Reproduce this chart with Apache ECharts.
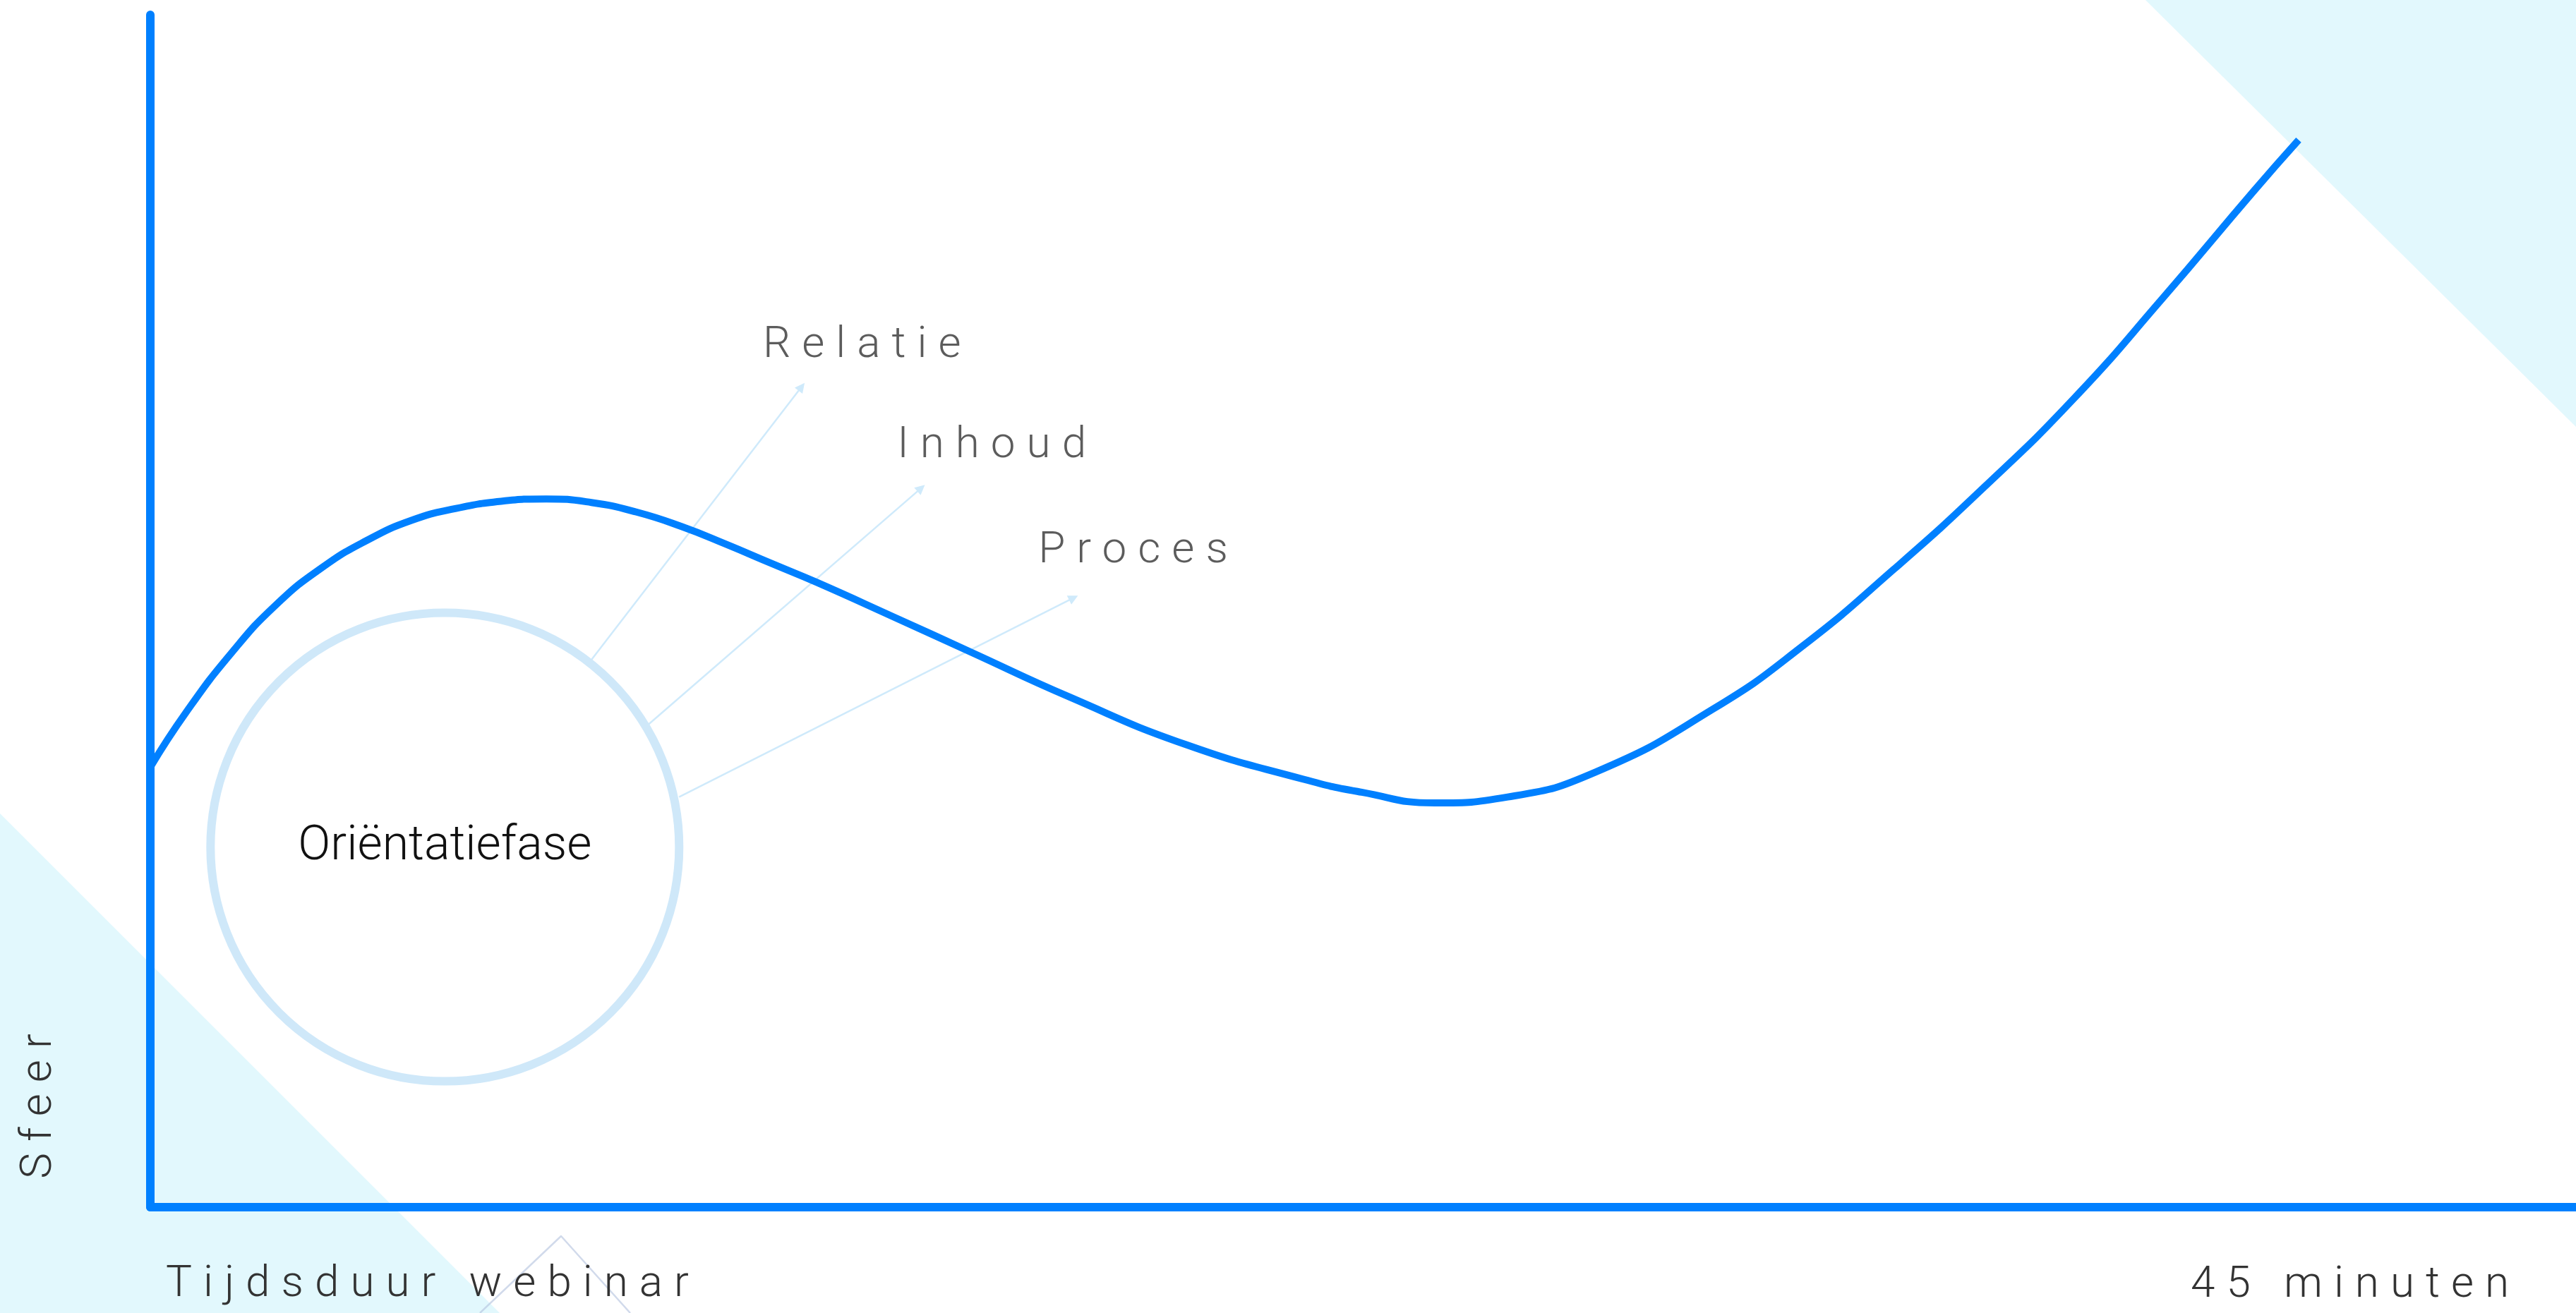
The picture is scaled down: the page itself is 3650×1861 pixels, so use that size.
<!DOCTYPE html>
<html>
<head>
<meta charset="utf-8">
<script src="https://cdn.jsdelivr.net/npm/echarts@6/dist/echarts.min.js"></script>
<style>
html, body { margin: 0; padding: 0; background: #ffffff; }
#chart { width: 3650px; height: 1861px; }
</style>
</head>
<body>
<div id="chart"></div>
<script>
// ---- data ----
// Sfeer curve over the webinar (x in minutes, y = sfeer 0..100)
const curveX = [0, 0.73, 1.66, 2.56, 3.49, 4.41, 5.33, 6.24, 7.16, 8.08, 9.00, 9.92, 10.83, 11.75, 12.67, 13.6, 15.17, 16.72, 18.75, 21.13, 23.52, 24.72, 26.21, 27.70, 29.50, 31.90, 33.73, 35.58, 37.40, 39.25, 41.08, 42.92, 43.84];
const curveY = [36.9, 41.5, 46.5, 50.5, 53.6, 55.9, 57.6, 58.6, 59.2, 59.4, 59.1, 58.3, 57.1, 55.6, 54.0, 52.4, 49.5, 46.6, 42.8, 38.8, 35.9, 34.8, 33.9, 34.4, 36.5, 41.8, 47.1, 53.5, 60.3, 67.8, 76.3, 85.2, 89.5];

// phase circle
const phaseName = 'Oriëntatiefase';
const phaseCenter = [6.01, 30.2];

// arrows from the circle to the three aspects
const aspectNames = ['Relatie', 'Inhoud', 'Proces'];
const arrowFrom = [[9.00, 45.9], [10.17, 40.5], [10.79, 34.4]];
const arrowTo = [[13.29, 68.8], [15.73, 60.3], [18.84, 51.1]];
const aspectLabelAt = [[12.50, 72.2], [15.24, 63.8], [18.12, 55.0]];

// axes
const xAxisTitle = 'Tijdsduur webinar';
const yAxisTitle = 'Sfeer';
const xTickValues = [45];
const xTickLabels = ['45 minuten'];
const xMin = 0, xMax = 49.5;
const yMin = 0, yMax = 100;

// ---- styling ----
const BLUE = '#0080ff';
const RING = '#cfe8f9';
const ARROW = '#cfeafb';
const BG = '#e2f8fd';
const TEXT = '#333333';
const FONT = 'Roboto';
const SPACED_SIZE = 62;
const LETTER_SPACING = 16;

const chart = echarts.init(document.getElementById('chart'), null, { renderer: 'canvas' });

const option = {
  animation: false,
  backgroundColor: '#ffffff',
  grid: { left: 213, right: 0, top: 21, bottom: 150, containLabel: false, outerBoundsMode: 'none' },
  xAxis: {
    type: 'value', min: xMin, max: xMax, zlevel: 1,
    axisLine: { show: true, onZero: false, lineStyle: { color: BLUE, width: 12 } },
    axisTick: { show: false },
    splitLine: { show: false },
    axisLabel: {
      show: true,
      customValues: xTickValues,
      formatter: function (v) { const i = xTickValues.indexOf(v); return i >= 0 ? xTickLabels[i] : ''; },
      margin: 111, verticalAlign: 'middle',
      color: TEXT, fontSize: SPACED_SIZE, fontFamily: FONT, fontWeight: 300
    }
  },
  yAxis: {
    type: 'value', min: yMin, max: yMax, zlevel: 1,
    axisLine: { show: true, onZero: false, lineStyle: { color: BLUE, width: 12 } },
    axisTick: { show: false },
    splitLine: { show: false },
    axisLabel: { show: false }
  },
  graphic: {
    elements: [
      { type: 'polygon', silent: true, zlevel: 0, z: -10,
        shape: { points: [[3040, 0], [3650, 0], [3650, 605]] }, style: { fill: BG } },
      { type: 'polygon', silent: true, zlevel: 0, z: -10,
        shape: { points: [[0, 1153], [708, 1861], [0, 1861]] }, style: { fill: BG } },
      { type: 'polyline', silent: true, zlevel: 0, z: -9,
        shape: { points: [[680, 1861], [795, 1752], [893, 1861]] },
        style: { stroke: '#b3c2de', lineWidth: 2.5, fill: null, lineJoin: 'round', opacity: 0.6 } },
      { type: 'text', silent: true, zlevel: 1, z: 10, x: 235, y: 1821,
        style: { text: xAxisTitle, fontSize: SPACED_SIZE, fontFamily: FONT, fontWeight: 300, fill: TEXT,
                 align: 'left', verticalAlign: 'middle' } },
      { type: 'text', silent: true, zlevel: 1, z: 10, x: 56, y: 1560, rotation: Math.PI / 2,
        style: { text: yAxisTitle, fontSize: SPACED_SIZE, fontFamily: FONT, fontWeight: 300, fill: TEXT,
                 align: 'center', verticalAlign: 'middle' } }
    ]
  },
  series: [
    {
      type: 'lines', coordinateSystem: 'cartesian2d', zlevel: 0, z: 2, silent: true,
      symbol: ['none', 'triangle'], symbolSize: 14,
      lineStyle: { color: ARROW, width: 2.5, opacity: 1, curveness: 0 },
      data: arrowFrom.map(function (f, i) { return { coords: [f, arrowTo[i]] }; })
    },
    {
      type: 'scatter', zlevel: 0, z: 3, silent: true,
      data: [phaseCenter],
      symbol: 'circle', symbolSize: 664,
      itemStyle: { color: 'rgba(255,255,255,0)', borderColor: RING, borderWidth: 12, opacity: 1 },
      label: { show: true, position: 'inside', formatter: phaseName, color: '#111111',
               fontSize: 68, fontFamily: FONT, fontWeight: 300 }
    },
    {
      type: 'line', zlevel: 0, z: 4, silent: true,
      data: curveX.map(function (x, i) { return [x, curveY[i]]; }),
      smooth: 0.5, symbol: 'none',
      lineStyle: { color: BLUE, width: 10, cap: 'butt' }
    },
    {
      type: 'scatter', zlevel: 1, z: 5, silent: true,
      data: aspectLabelAt.map(function (p, i) { return { name: aspectNames[i], value: p }; }),
      symbolSize: 1,
      itemStyle: { color: 'rgba(0,0,0,0)' },
      label: { show: true, position: 'inside', align: 'left', verticalAlign: 'middle', formatter: '{b}',
               color: TEXT, fontSize: SPACED_SIZE, fontFamily: FONT, fontWeight: 300 }
    }
  ]
};

chart.setOption(option);

// the labels of the reference are letter-spaced: apply spacing to the text layer
try {
  const painter = chart.getZr().painter;
  const layer = painter.getLayer(1);
  if (layer && layer.ctx && ('letterSpacing' in layer.ctx)) {
    layer.ctx.letterSpacing = LETTER_SPACING + 'px';
    painter.refresh(true);
  }
} catch (e) { /* spacing is optional */ }
</script>
</body>
</html>
